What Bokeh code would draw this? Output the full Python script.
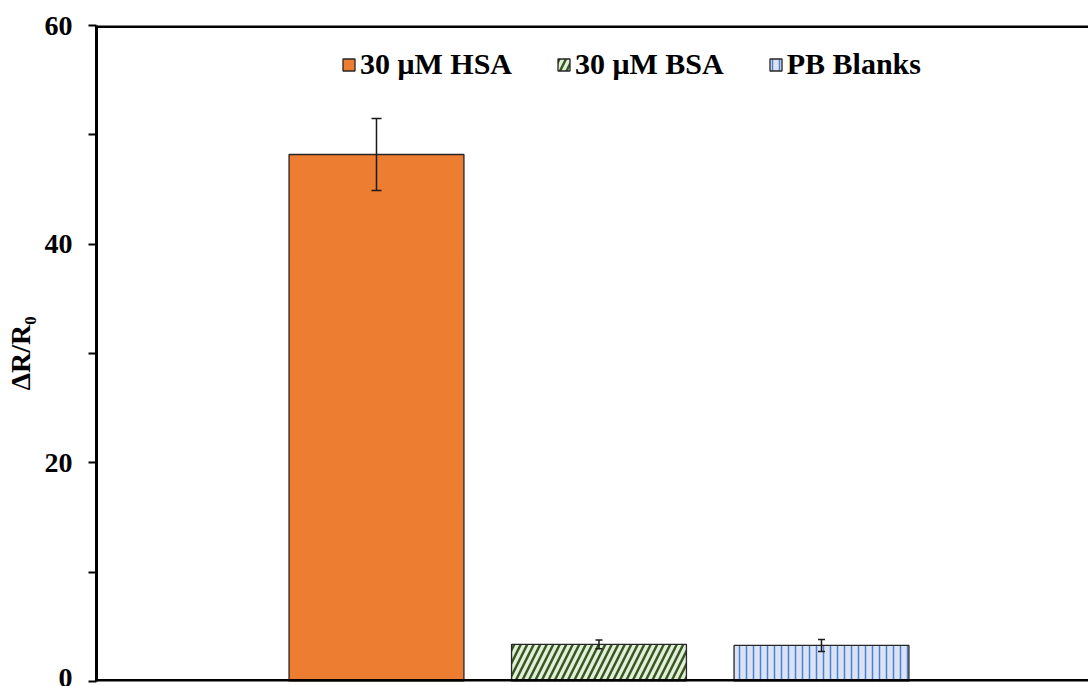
from bokeh.plotting import figure
from bokeh.models import (ColumnDataSource, Range1d, FixedTicker, Span, Whisker,
                          TeeHead, Legend, LegendItem)
from bokeh.embed import file_html
from bokeh.resources import INLINE

# ---- data ----
categories = ["30 μM HSA", "30 μM BSA", "PB Blanks"]
values = [48.2, 3.4, 3.3]
errors = [3.3, 0.4, 0.55]
y_ticks = [0, 20, 40, 60]
y_minor_ticks = [10, 30, 50]

# ---- styles ----
fills = ["#ED7D31", "#E2F0D9", "#DAE3F3"]
hatches = [" ", "/", "|"]
hatch_colors = [None, "#385723", "#4F7FD0"]
hatch_scales = [10, 13, 7]
hatch_weights = [1, 2.5, 1.5]
head_sizes = [10, 7, 7]

FONT = "Liberation Serif"

p = figure(width=1088, height=686, output_backend="svg", toolbar_location=None,
           x_range=Range1d(-0.2584, 4.2), y_range=Range1d(0, 60),
           min_border_left=96, min_border_right=0, min_border_top=25,
           min_border_bottom=5)
p.outline_line_color = None
p.xgrid.visible = False
p.ygrid.visible = False
p.xaxis.visible = False

yax = p.yaxis[0]
yax.ticker = FixedTicker(ticks=y_ticks, minor_ticks=y_minor_ticks)
yax.axis_line_width = 3
yax.axis_line_color = "black"
yax.major_tick_in = 0
yax.major_tick_out = 8
yax.minor_tick_in = 0
yax.minor_tick_out = 8
yax.major_tick_line_width = 2
yax.minor_tick_line_width = 2
yax.major_label_text_font = FONT
yax.major_label_text_font_style = "bold"
yax.major_label_text_font_size = "28px"
yax.major_label_text_color = "black"
yax.major_label_standoff = 16
yax.axis_label = "ΔR/R₀"
yax.axis_label_text_font = FONT
yax.axis_label_text_font_style = "bold"
yax.axis_label_text_font_size = "28px"
yax.axis_label_text_color = "black"
yax.axis_label_standoff = 6

p.add_layout(Span(location=60, dimension="width", line_color="black", line_width=5))
p.add_layout(Span(location=0, dimension="width", line_color="black", line_width=5))

items = []
for i, (cat, v, e) in enumerate(zip(categories, values, errors)):
    xpos = i + 1
    src = ColumnDataSource(dict(x=[xpos], top=[v], upper=[v + e], lower=[v - e]))
    kw = dict(x="x", top="top", width=0.786, bottom=0, source=src,
              fill_color=fills[i], line_color="#262626", line_width=1.3)
    if hatches[i].strip():
        kw.update(hatch_pattern=hatches[i], hatch_color=hatch_colors[i],
                  hatch_scale=hatch_scales[i], hatch_weight=hatch_weights[i])
    r = p.vbar(**kw)
    items.append(LegendItem(label=cat, renderers=[r]))
    w = Whisker(base="x", upper="upper", lower="lower", source=src, level="overlay",
                line_color="#1a1a1a", line_width=1.5,
                upper_head=TeeHead(size=head_sizes[i], line_width=1.5, line_color="#1a1a1a"),
                lower_head=TeeHead(size=head_sizes[i], line_width=1.5, line_color="#1a1a1a"))
    p.add_layout(w)

legend = Legend(items=items, orientation="horizontal", location=(245, 600),
                glyph_width=15, glyph_height=15, label_standoff=4, spacing=44,
                padding=0, margin=0, border_line_color=None,
                background_fill_alpha=0,
                label_text_font=FONT, label_text_font_style="bold",
                label_text_font_size="30px", label_text_color="black")
p.add_layout(legend)

open("out.html", "w").write(file_html(p, INLINE))
